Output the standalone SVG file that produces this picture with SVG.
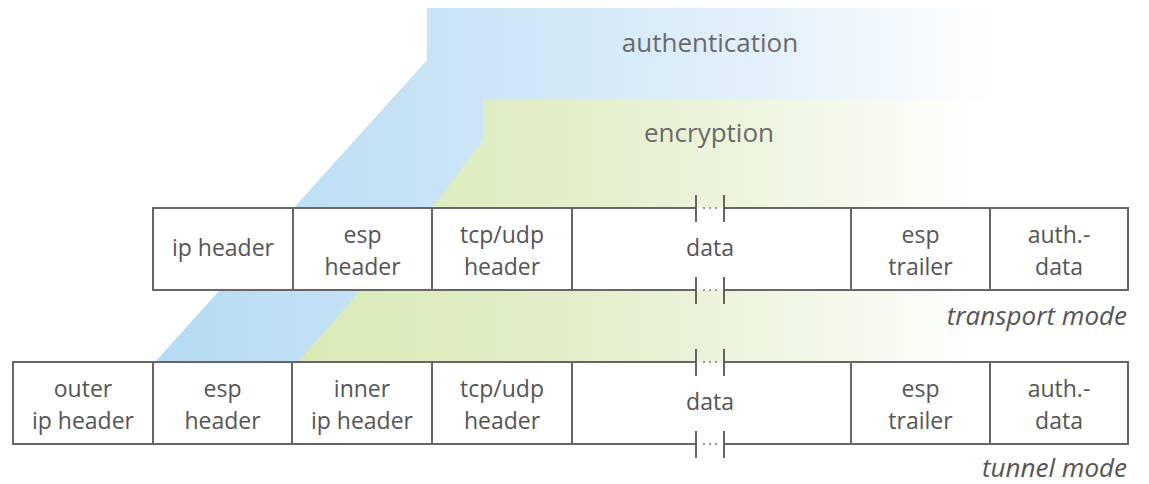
<svg xmlns="http://www.w3.org/2000/svg" width="1149" height="484" viewBox="0 0 1149 484">
  <defs>
    <linearGradient id="authFill" gradientUnits="userSpaceOnUse" x1="155" y1="0" x2="1000" y2="0">
      <stop offset="0" stop-color="#b6dbf4"/>
      <stop offset="0.35" stop-color="#c9e4f6"/>
      <stop offset="0.7" stop-color="#e2f0fa"/>
      <stop offset="1" stop-color="#ffffff"/>
    </linearGradient>
    <linearGradient id="encFill" gradientUnits="userSpaceOnUse" x1="298" y1="0" x2="980" y2="0">
      <stop offset="0" stop-color="#d9eab6"/>
      <stop offset="0.4" stop-color="#e3efca"/>
      <stop offset="0.75" stop-color="#f1f7e6"/>
      <stop offset="1" stop-color="#ffffff"/>
    </linearGradient>
    <style>
      .cell { fill: #ffffff; stroke: #666666; stroke-width: 2; }
      .edge { stroke: #666666; stroke-width: 2; fill: none; }
      .tick { stroke: #555555; stroke-width: 1.8; }
      .dot { fill: #777777; }
      .lbl { font-family: "Open Sans", "Noto Sans", "Liberation Sans", sans-serif; font-size: 23px; fill: #555555; text-anchor: middle; }
      .zone { font-family: "Open Sans", "Noto Sans", "Liberation Sans", sans-serif; font-size: 26px; fill: #6a6a6a; text-anchor: middle; }
      .mode { font-family: "Open Sans", "Noto Sans", "Liberation Sans", sans-serif; font-size: 26px; font-style: italic; fill: #555555; text-anchor: end; }
    </style>
  </defs>

  <rect width="1149" height="484" fill="#ffffff"/>

  <!-- coverage bands -->
  <g id="authentication">
    <polygon points="427,8 1000,8 1000,362 155,362 427,60" fill="url(#authFill)"/>
    <text class="zone" x="710" y="52">authentication</text>
  </g>
  <g id="encryption">
    <polygon points="483,100 1000,100 1000,362 298,362 432,208 483,140" fill="url(#encFill)"/>
    <text class="zone" x="709" y="142">encryption</text>
  </g>

  <!-- transport mode packet -->
  <g id="t-data">
    <rect x="572" y="208" width="279" height="82" fill="#ffffff"/>
    <path class="edge" d="M572,207 V291 M851,207 V291 M572,208 H696 M724,208 H851 M572,290 H696 M724,290 H851"/>
    <text class="lbl" x="710" y="256">data</text>
  </g>
  <g id="t-ip"><rect class="cell" x="153" y="208" width="140" height="82"/><text class="lbl" x="223" y="256">ip header</text></g>
  <g id="t-esp"><rect class="cell" x="293" y="208" width="139" height="82"/><text class="lbl" x="362.5" y="243">esp</text><text class="lbl" x="362.5" y="275">header</text></g>
  <g id="t-tcp"><rect class="cell" x="432" y="208" width="140" height="82"/><text class="lbl" x="502" y="243">tcp/udp</text><text class="lbl" x="502" y="275">header</text></g>
  <g id="t-trailer"><rect class="cell" x="851" y="208" width="139" height="82"/><text class="lbl" x="920.5" y="243">esp</text><text class="lbl" x="920.5" y="275">trailer</text></g>
  <g id="t-auth"><rect class="cell" x="990" y="208" width="138" height="82"/><text class="lbl" x="1059" y="243">auth.-</text><text class="lbl" x="1059" y="275">data</text></g>
  <text class="mode" x="1127" y="325">transport mode</text>

  <!-- tunnel mode packet -->
  <g id="b-data">
    <rect x="572" y="362" width="279" height="82" fill="#ffffff"/>
    <path class="edge" d="M572,361 V445 M851,361 V445 M572,362 H696 M724,362 H851 M572,444 H696 M724,444 H851"/>
    <text class="lbl" x="710" y="410">data</text>
  </g>
  <g id="b-outer"><rect class="cell" x="13" y="362" width="140" height="82"/><text class="lbl" x="83" y="397">outer</text><text class="lbl" x="83" y="429">ip header</text></g>
  <g id="b-esp"><rect class="cell" x="153" y="362" width="139" height="82"/><text class="lbl" x="222.5" y="397">esp</text><text class="lbl" x="222.5" y="429">header</text></g>
  <g id="b-inner"><rect class="cell" x="292" y="362" width="140" height="82"/><text class="lbl" x="362" y="397">inner</text><text class="lbl" x="362" y="429">ip header</text></g>
  <g id="b-tcp"><rect class="cell" x="432" y="362" width="140" height="82"/><text class="lbl" x="502" y="397">tcp/udp</text><text class="lbl" x="502" y="429">header</text></g>
  <g id="b-trailer"><rect class="cell" x="851" y="362" width="139" height="82"/><text class="lbl" x="920.5" y="397">esp</text><text class="lbl" x="920.5" y="429">trailer</text></g>
  <g id="b-auth"><rect class="cell" x="990" y="362" width="138" height="82"/><text class="lbl" x="1059" y="397">auth.-</text><text class="lbl" x="1059" y="429">data</text></g>
  <text class="mode" x="1127" y="477">tunnel mode</text>

  <!-- connectors: break marks in the data fields -->
  <g id="connectors">
    <path class="tick" d="M696,195 V222 M724,195 V222 M696,277 V304 M724,277 V304 M696,349 V376 M724,349 V376 M696,431 V458 M724,431 V458"/>
    <g class="dot">
      <circle cx="704" cy="208" r="1"/><circle cx="710" cy="208" r="1"/><circle cx="716" cy="208" r="1"/>
      <circle cx="704" cy="290" r="1"/><circle cx="710" cy="290" r="1"/><circle cx="716" cy="290" r="1"/>
      <circle cx="704" cy="362" r="1"/><circle cx="710" cy="362" r="1"/><circle cx="716" cy="362" r="1"/>
      <circle cx="704" cy="444" r="1"/><circle cx="710" cy="444" r="1"/><circle cx="716" cy="444" r="1"/>
    </g>
  </g>
</svg>
